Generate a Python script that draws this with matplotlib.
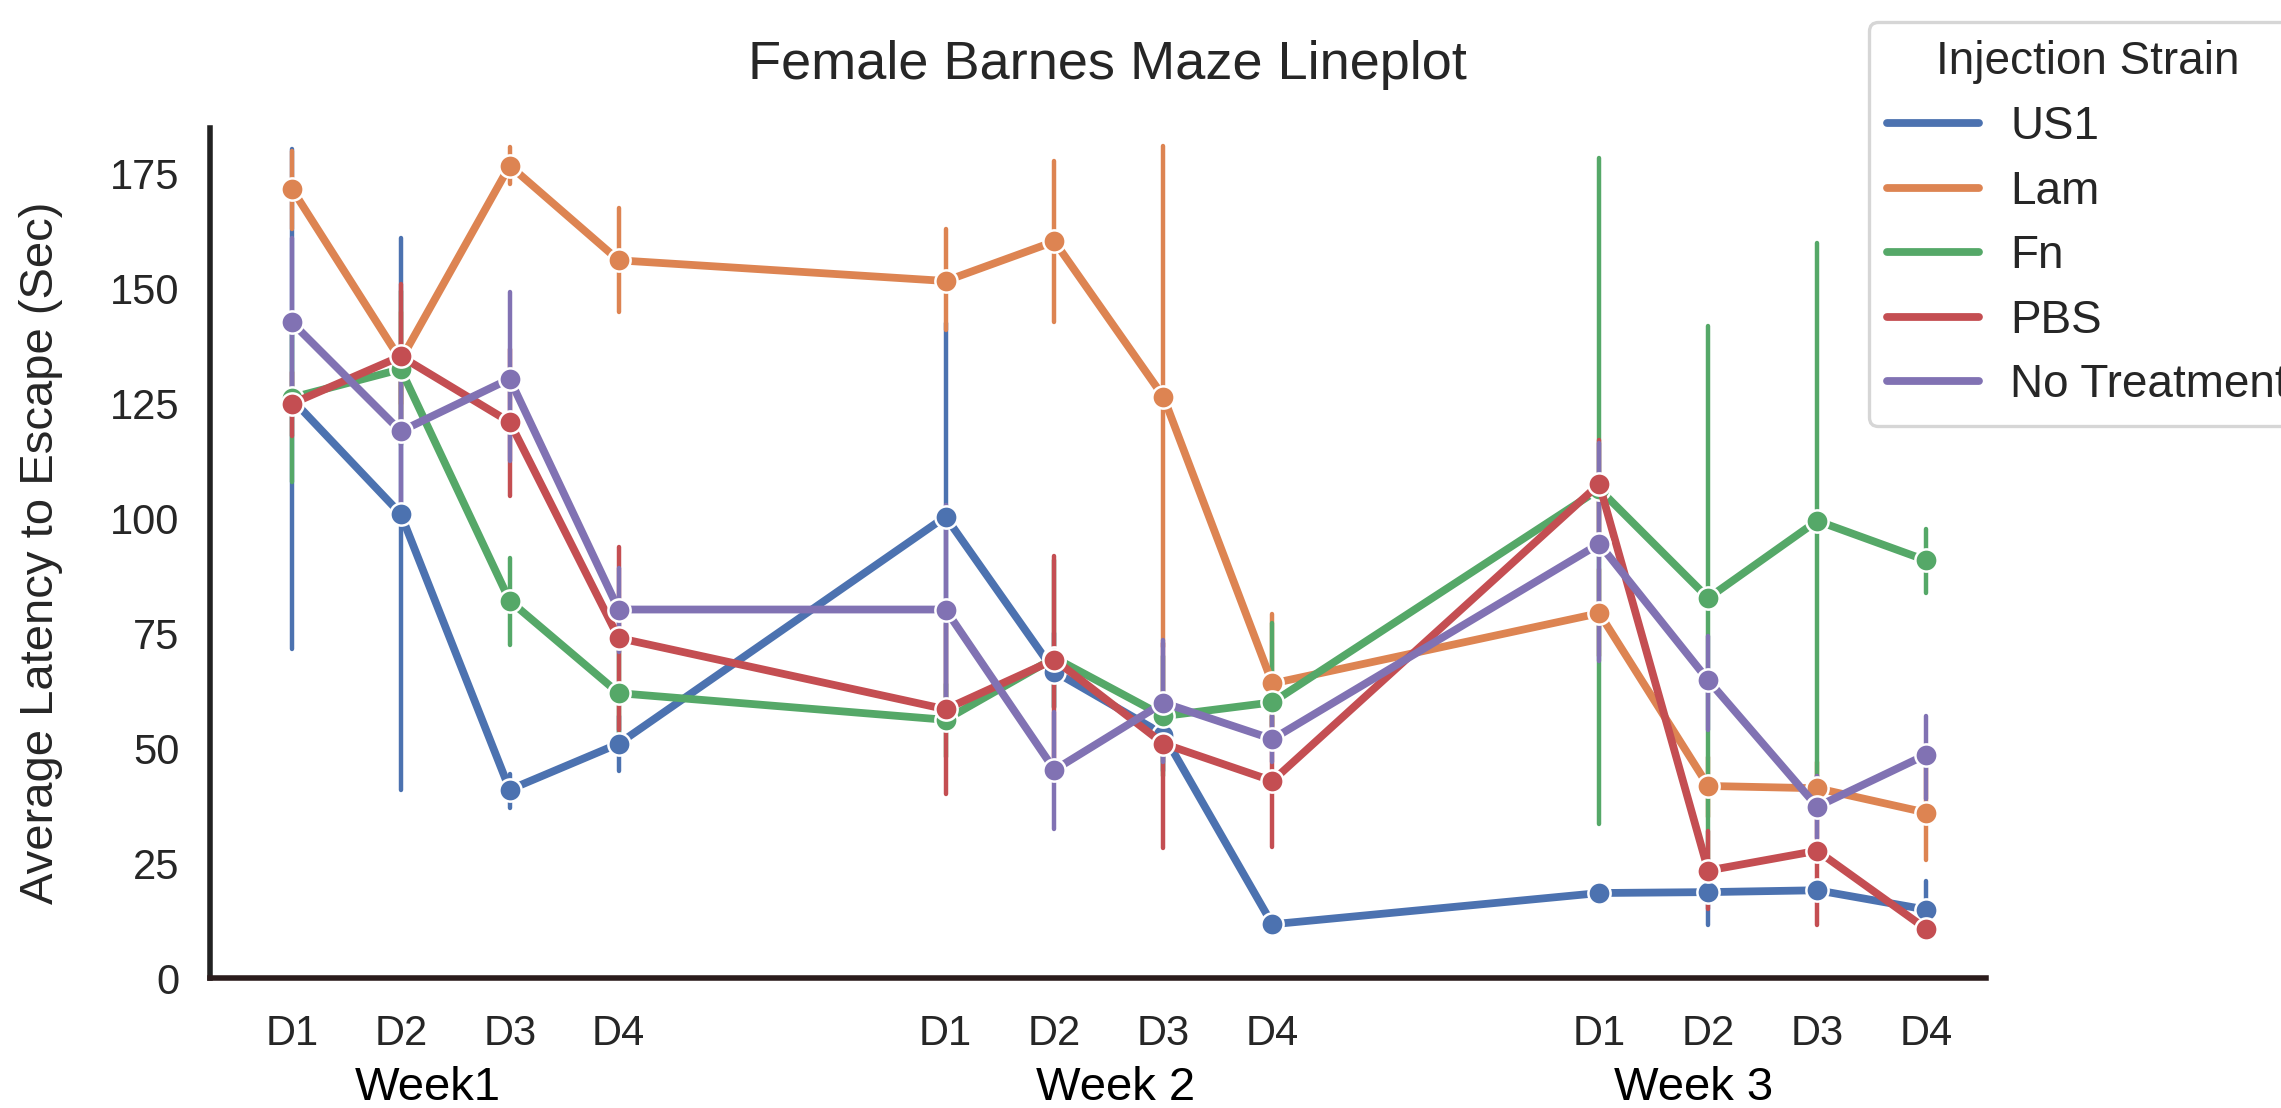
import numpy as np
import matplotlib
matplotlib.use("Agg")
import matplotlib.pyplot as plt
import matplotlib.transforms as mtransforms

plt.rcParams['font.family'] = ['Liberation Sans', 'DejaVu Sans']
plt.rcParams['text.color'] = '#262626'
plt.rcParams['axes.labelcolor'] = '#262626'
plt.rcParams['xtick.color'] = '#262626'
plt.rcParams['ytick.color'] = '#262626'

# x positions: 4 days per week, gap between weeks
x_pos = [0, 1, 2, 3, 6, 7, 8, 9, 12, 13, 14, 15]
day_labels = ["D1", "D2", "D3", "D4"] * 3
week_labels = ["Week1", "Week 2", "Week 3"]
week_label_x = [1.25, 7.56, 12.87]

strains = ["US1", "Lam", "Fn", "PBS", "No Treatment"]
colors = ["#4C72B0", "#DD8452", "#55A868", "#C44E52", "#8172B3"]

# mean latency (sec)
us1_mean = [126, 101, 41, 51, 100.4, 66.7, 53, 11.7, 18.5, 18.7, 19.1, 14.9]
lam_mean = [171.8, 134.5, 176.8, 156.2, 151.7, 160.3, 126.5, 64.1, 79.4, 41.8, 41.3, 36.0]
fn_mean = [126.3, 132.5, 82.1, 62, 56.2, 69.7, 57, 60, 106.4, 82.7, 99.5, 90.9]
pbs_mean = [125, 135.3, 121, 74, 58.5, 69.3, 51, 42.9, 107.5, 23.4, 27.7, 10.7]
nt_mean = [142.7, 119, 130.4, 80.2, 80.2, 45.3, 59.9, 52, 94.5, 64.8, 37.3, 48.6]

# confidence interval lows / highs
us1_lo = [71.5, 41, 37, 45, 58, 59, 45, 10, 16.5, 11.5, 17, 9]
us1_hi = [180.5, 161, 44.5, 57, 142.5, 75, 61, 13.5, 20.5, 26, 21.5, 21.2]
lam_lo = [163, 125, 172.9, 145, 141, 142.8, 72, 50, 70, 35, 35, 25.7]
lam_hi = [180, 145, 180.8, 167.5, 163, 177.8, 181, 79.3, 89, 48, 47, 46]
fn_lo = [108, 116, 72.5, 51.6, 48.2, 58.7, 44, 54.8, 33.6, 24.5, 42, 83.9]
fn_hi = [144, 149.6, 91.5, 72.5, 64, 90.9, 70, 77.3, 178.5, 142, 160, 97.8]
pbs_lo = [118, 120, 105, 54, 40, 47, 28.3, 28.6, 97, 15, 11.5, 9]
pbs_hi = [132, 151, 137, 93.7, 77, 91.9, 73, 57, 117, 32, 44, 13]
nt_lo = [125, 103, 112.5, 71, 61, 32.5, 47, 47, 69, 53.9, 30.4, 39]
nt_hi = [161, 135, 149.2, 89.2, 103, 58, 73.6, 57, 116.4, 74.5, 44, 57]

means = [us1_mean, lam_mean, fn_mean, pbs_mean, nt_mean]
lows = [us1_lo, lam_lo, fn_lo, pbs_lo, nt_lo]
highs = [us1_hi, lam_hi, fn_hi, pbs_hi, nt_hi]

fig = plt.figure(figsize=(11.405, 5.54), dpi=200)
ax = fig.add_axes([0.0921, 0.1173, 0.7786, 0.7672])

for name, col, m, lo, hi in zip(strains, colors, means, lows, highs):
    ax.vlines(x_pos, lo, hi, color=col, linewidth=1.6, zorder=2, capstyle='round')
    ax.plot(x_pos, m, color=col, linewidth=2.8, marker='o', markersize=8,
            markeredgecolor='white', markeredgewidth=0.9, zorder=3,
            solid_capstyle='round', label=name)

ax.set_xlim(-0.75, 15.55)
ax.set_ylim(0, 185)
ax.set_xticks(x_pos)
ax.set_xticklabels(day_labels)
ax.set_yticks([0, 25, 50, 75, 100, 125, 150, 175])
ax.tick_params(axis='y', length=0, pad=11, labelsize=15)
ax.tick_params(axis='x', length=0, pad=13, labelsize=15)

for s in ["top", "right"]:
    ax.spines[s].set_visible(False)
ax.spines["left"].set_linewidth(2.0)
ax.spines["left"].set_color("#222222")
ax.spines["bottom"].set_linewidth(2.0)
ax.spines["bottom"].set_color("#2b1c1c")

ax.set_ylabel("Average Latency to Escape (Sec)", fontsize=17)
ax.yaxis.set_label_coords(-0.083, 0.5)

trans = mtransforms.blended_transform_factory(ax.transData, ax.transAxes)
for wx, wl in zip(week_label_x, week_labels):
    ax.text(wx, -0.129, wl, transform=trans, ha='center', va='center',
            fontsize=17, color='black')

fig.text(1107 / 2281, 1 - 65 / 1108, "Female Barnes Maze Lineplot",
         ha='center', va='center', fontsize=19.5)

leg_handles = [plt.Line2D([], [], color=c, linewidth=2.8, solid_capstyle='round') for c in colors]
leg = ax.legend(leg_handles, strains, title="Injection Strain", loc='upper left',
                bbox_to_anchor=(1869 / 2281, 1 - 22 / 1108), bbox_transform=fig.transFigure,
                borderaxespad=0, fontsize=16.5, title_fontsize=16.5, frameon=True,
                fancybox=True, handlelength=2.0, handletextpad=0.68, labelspacing=0.45)
leg.get_frame().set_edgecolor('#cccccc')
leg.get_frame().set_linewidth(1.2)

fig.savefig("out.png", dpi=200)
